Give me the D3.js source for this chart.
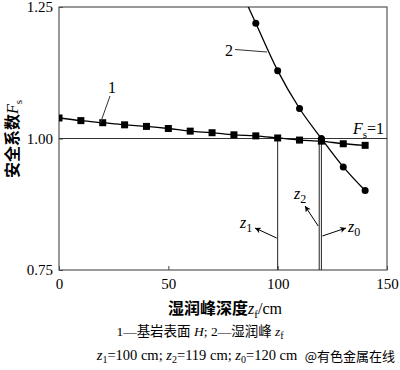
<!DOCTYPE html>
<html>
<head>
<meta charset="utf-8">
<script src="https://cdn.jsdelivr.net/npm/d3@7"></script>
<style>
  body { margin: 0; background: #fff; }
  svg text { font-family: "Liberation Serif", "Noto Sans CJK SC", serif; fill: #000; }
</style>
</head>
<body>
<svg width="400" height="370"></svg>
<script>
// bedrock surface H (curve 1)
const depth1 = [0, 10, 20, 30, 40, 50, 60, 70, 80, 90, 100, 110, 120, 130, 140];
const fs1 = [1.039, 1.034, 1.030, 1.026, 1.023, 1.019, 1.014, 1.011, 1.007, 1.005, 1.001, 0.997, 0.995, 0.990, 0.987];
// wetting front zf (curve 2); first point lies above the plot and is clipped
const depth2 = [80, 90, 100, 110, 120, 130, 140];
const fs2 = [1.31, 1.219, 1.129, 1.057, 1.0, 0.946, 0.901];
const xTicks = [0, 50, 100, 150];
const yTicks = [0.75, 1.0, 1.25];
const zLines = [100, 119, 120];

const svg = d3.select("svg");
const x = d3.scaleLinear().domain([0, 150]).range([59, 387]);
const y = d3.scaleLinear().domain([0.75, 1.25]).range([270, 7]);

svg.append("defs").append("clipPath").attr("id", "clip")
  .append("rect").attr("x", 59).attr("y", 7).attr("width", 328).attr("height", 263);
const marker = svg.select("defs").append("marker")
  .attr("id", "arr").attr("viewBox", "0 0 10 10").attr("refX", 10).attr("refY", 5)
  .attr("markerWidth", 8).attr("markerHeight", 6).attr("orient", "auto")
  .attr("markerUnits", "userSpaceOnUse");
marker.append("path").attr("d", "M0,0L10,5L0,10L3,5Z").attr("fill", "#000");

// axes with inward ticks
svg.append("g").attr("transform", "translate(0,270)")
  .call(d3.axisBottom(x).tickValues(xTicks).tickSize(-4).tickPadding(8).tickFormat(d3.format("d")))
  .call(g => g.select(".domain").remove())
  .call(g => g.selectAll("text").style("font-size", "15px"));
svg.append("g").attr("transform", "translate(59,0)")
  .call(d3.axisLeft(y).tickValues(yTicks).tickSize(-4).tickPadding(6).tickFormat(d3.format(".2f")))
  .call(g => g.select(".domain").remove())
  .call(g => g.selectAll("text").style("font-size", "15px"));
svg.selectAll(".tick line").attr("stroke", "#444");

// frame
svg.append("rect").attr("x", 59).attr("y", 7).attr("width", 328).attr("height", 263)
  .attr("fill", "none").attr("stroke", "#555").attr("stroke-width", 1.2);

// Fs = 1 reference line
svg.append("line").attr("x1", x(0)).attr("x2", x(150)).attr("y1", y(1)).attr("y2", y(1))
  .attr("stroke", "#333").attr("stroke-width", 1.2);

// vertical z lines
svg.selectAll(".zline").data(zLines).enter().append("line")
  .attr("class", "zline")
  .attr("x1", d => x(d)).attr("x2", d => x(d))
  .attr("y1", d => d === 100 ? y(1) : y(0.995)).attr("y2", y(0.75))
  .attr("stroke", "#222").attr("stroke-width", 1);

const line = d3.line().x(d => x(d[0])).y(d => y(d[1])).curve(d3.curveMonotoneX);
const plot = svg.append("g").attr("clip-path", "url(#clip)");
const s1 = d3.zip(depth1, fs1), s2 = d3.zip(depth2, fs2);
plot.append("path").datum(s1).attr("d", line).attr("fill", "none").attr("stroke", "#000").attr("stroke-width", 1.3);
plot.append("path").datum(s2).attr("d", line).attr("fill", "none").attr("stroke", "#000").attr("stroke-width", 1.3);
plot.selectAll(".sq").data(s1).enter().append("rect")
  .attr("x", d => x(d[0]) - 3.5).attr("y", d => y(d[1]) - 3.5)
  .attr("width", 7).attr("height", 7).attr("fill", "#000");
plot.selectAll(".dot").data(s2).enter().append("circle")
  .attr("cx", d => x(d[0])).attr("cy", d => y(d[1])).attr("r", 3.5).attr("fill", "#000");

// curve labels with leaders
svg.append("text").attr("x", 112).attr("y", 93).attr("text-anchor", "middle").style("font-size", "16px").text("1");
svg.append("line").attr("x1", 110).attr("y1", 96).attr("x2", x(19)).attr("y2", y(1.03))
  .attr("stroke", "#333");
svg.append("text").attr("x", 229).attr("y", 56).attr("text-anchor", "middle").style("font-size", "16px").text("2");
svg.append("line").attr("x1", 235).attr("y1", 49.5).attr("x2", 267).attr("y2", 52)
  .attr("stroke", "#333");

// Fs=1
const fsT = svg.append("text").attr("x", 384).attr("y", 134).attr("text-anchor", "end").style("font-size", "16px");
fsT.append("tspan").attr("font-style", "italic").text("F");
fsT.append("tspan").attr("dy", 4).style("font-size", "11px").text("s");
fsT.append("tspan").attr("dy", -4).text("=1");

// z labels with arrows
function zLabel(tx, ty, sub) {
  const t = svg.append("text").attr("x", tx).attr("y", ty).style("font-size", "16px");
  t.append("tspan").attr("font-style", "italic").text("z");
  t.append("tspan").attr("dy", 4).style("font-size", "12px").text(sub);
}
zLabel(240, 228, "1");
zLabel(294, 199, "2");
zLabel(348, 232, "0");
[[x(100) - 1, 238, 255, 228], [x(119) - 1, 226, 305, 206], [x(120) + 1, 236, 346, 228]].forEach(a => {
  svg.append("line").attr("x1", a[0]).attr("y1", a[1]).attr("x2", a[2]).attr("y2", a[3])
    .attr("stroke", "#000").attr("stroke-width", 1).attr("marker-end", "url(#arr)");
});

// y axis title
const yl = svg.append("text").attr("transform", "translate(18,139) rotate(-90)")
  .attr("text-anchor", "middle").style("font-size", "16px").style("font-weight", "bold");
yl.append("tspan").text("安全系数");
yl.append("tspan").attr("font-style", "italic").style("font-weight", "normal").text("F");
yl.append("tspan").attr("dy", 4).style("font-size", "11px").style("font-weight", "normal").text("s");

// x axis title
const xl = svg.append("text").attr("x", 225).attr("y", 314).attr("text-anchor", "middle")
  .style("font-size", "16px").style("font-weight", "bold");
xl.append("tspan").text("湿润峰深度");
xl.append("tspan").attr("font-style", "italic").style("font-weight", "normal").text("z");
xl.append("tspan").attr("dy", 4).style("font-size", "11px").style("font-weight", "normal").text("f");
xl.append("tspan").attr("dy", -4).style("font-weight", "normal").text("/cm");

// captions
const c1 = svg.append("text").attr("x", 200).attr("y", 336).attr("text-anchor", "middle")
  .style("font-size", "13.5px").attr("fill", "#222");
c1.append("tspan").text("1—基岩表面 ");
c1.append("tspan").attr("font-style", "italic").text("H");
c1.append("tspan").text(";  2—湿润峰 ");
c1.append("tspan").attr("font-style", "italic").text("z");
c1.append("tspan").attr("dy", 3).style("font-size", "10px").text("f");

const c2 = svg.append("text").attr("x", 197).attr("y", 360).attr("text-anchor", "middle")
  .style("font-size", "14.5px");
[["1", "=100 cm; "], ["2", "=119 cm; "], ["0", "=120 cm"]].forEach(p => {
  c2.append("tspan").attr("font-style", "italic").attr("dy", 0).text("z");
  c2.append("tspan").attr("dy", 3).style("font-size", "10px").text(p[0]);
  c2.append("tspan").attr("dy", -3).text(p[1]);
});

svg.append("text").attr("x", 395).attr("y", 361).attr("text-anchor", "end")
  .style("font-size", "13px").style("font-family", "Noto Sans CJK SC").attr("fill", "#e8a0a8").text("@有色金属在线");
</script>
</body>
</html>
